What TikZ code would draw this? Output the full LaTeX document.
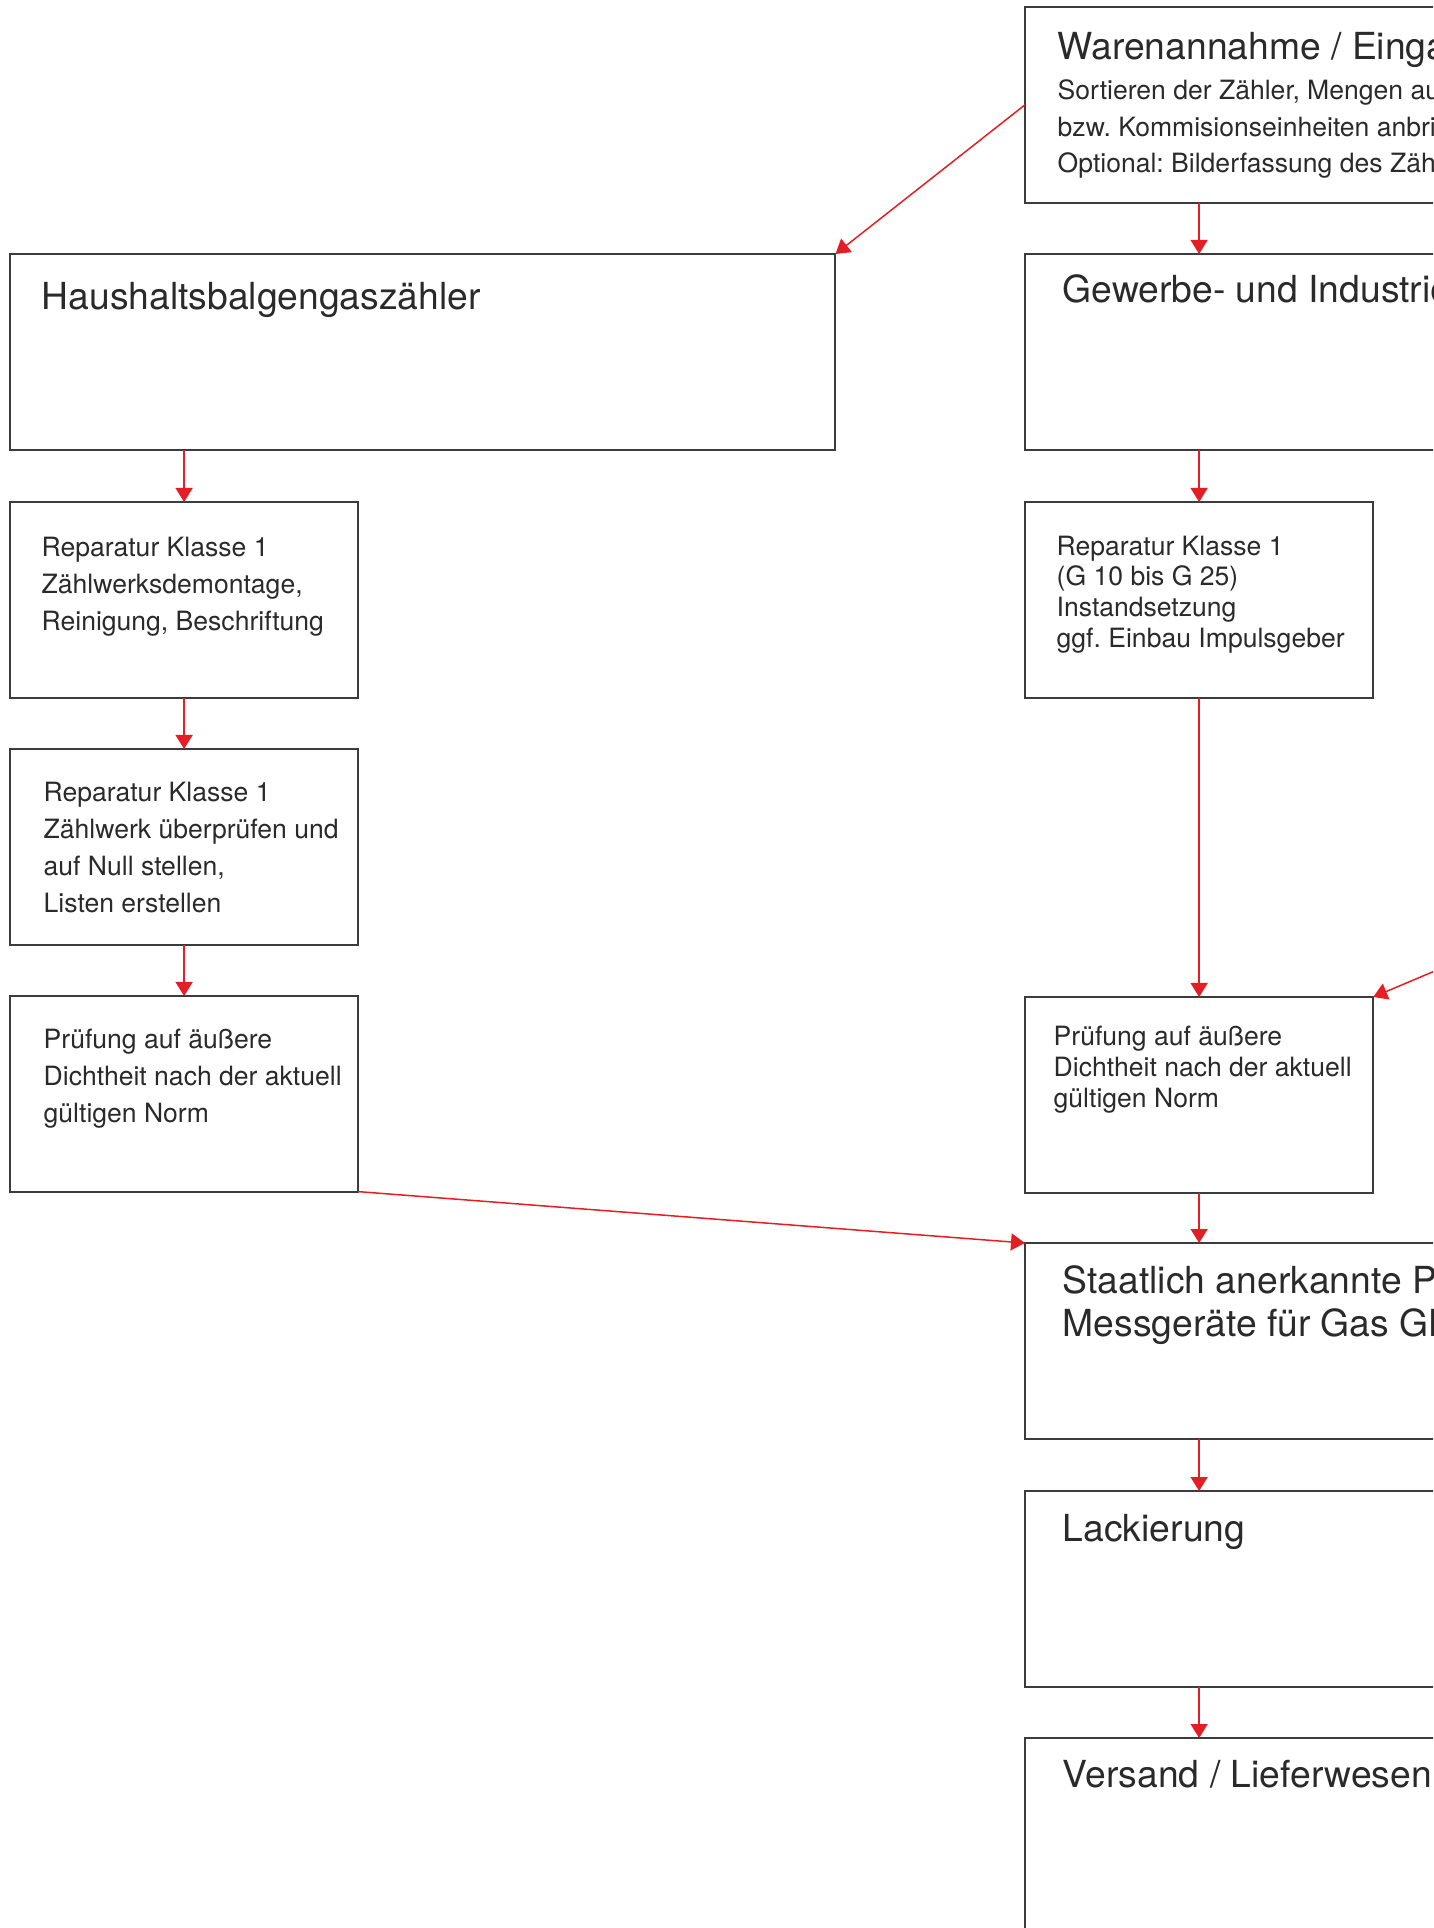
\documentclass[tikz,border=0pt]{standalone}
\usepackage{fontspec}
\setmainfont{TeX Gyre Heros}
\usepackage{xcolor}
\usetikzlibrary{arrows.meta, positioning, calc}
\frenchspacing

\definecolor{flowred}{RGB}{227,30,36}
\definecolor{frame}{RGB}{60,60,60}
\definecolor{ink}{RGB}{42,42,42}

\begin{document}
\begin{tikzpicture}[
    x=0.01cm, y=-0.01cm,
    box/.style={rectangle, draw=frame, line width=0.02cm, anchor=north west, inner sep=0pt, outer sep=0pt, minimum width=3.48cm, minimum height=1.955cm},
    widebox/.style={box, minimum width=8.25cm},
    headtxt/.style={anchor=base west, inner sep=0pt, text=ink, align=left, font=\fontsize{10.6}{12.2}\selectfont},
    bodytxt/.style={anchor=base west, inner sep=0pt, text=ink, align=left, font=\fontsize{7.55}{10.5}\selectfont},
    bodytxtR/.style={bodytxt, font=\fontsize{7.55}{8.7}\selectfont},
    arrow/.style={-{Triangle[length=0.14cm, width=0.17cm]}, line width=0.015cm, draw=flowred}
]
\useasboundingbox (0,0) rectangle (1433,1928);
\clip (0,0) rectangle (1433,1928);

% Top: goods receipt (text nodes sit on the baseline of their last line)
\node[widebox] (wa) at (1025,7) {};
\node[headtxt] (waT) at (1057,60) {Warenannahme / Eingangskontrolle};
\node[bodytxt] (waB) at (1057,173) {Sortieren der Zähler, Mengen aufnehmen\\bzw. Kommisionseinheiten anbringen\\Optional: Bilderfassung des Zählers};

% Left column: household meters
\node[widebox] (hh) at (10,254) {};
\node[headtxt] (hhT) at (41,310) {Haushaltsbalgengaszähler};

\node[box] (r1) at (10,502) {};
\node[bodytxt] (r1T) at (41,630) {Reparatur Klasse 1\\Zählwerksdemontage,\\Reinigung, Beschriftung};

\node[box] (r2) at (10,749) {};
\node[bodytxt] (r2T) at (43,912) {Reparatur Klasse 1\\Zählwerk überprüfen und\\auf Null stellen,\\Listen erstellen};

\node[box] (pl) at (10,996) {};
\node[bodytxt] (plT) at (43,1122) {Prüfung auf äußere\\Dichtheit nach der aktuell\\gültigen Norm};

% Right column: commercial and industrial meters
\node[widebox] (gw) at (1025,254) {};
\node[headtxt] (gwT) at (1062,303) {Gewerbe- und Industriezähler};

\node[box] (rr) at (1025,502) {};
\node[bodytxtR] (rrT) at (1056,647) {Reparatur Klasse 1\\(G 10 bis G 25)\\Instandsetzung\\ggf. Einbau Impulsgeber};

\node[box] (pr) at (1025,997) {};
\node[bodytxtR] (prT) at (1053,1107) {Prüfung auf äußere\\Dichtheit nach der aktuell\\gültigen Norm};

\node[widebox] (st) at (1025,1243) {};
\node[headtxt] (stT) at (1062,1336) {Staatlich anerkannte Prüfstelle für\\Messgeräte für Gas GH};

\node[widebox] (lk) at (1025,1491) {};
\node[headtxt] (lkT) at (1062,1541) {Lackierung};

\node[widebox] (vs) at (1025,1738) {};
\node[headtxt] (vsT) at (1062,1787) {Versand / Lieferwesen};

\coordinate (ext) at (1700,859);

% Arrows
\draw[arrow] (wa.west) -- (hh.north east);
\draw[arrow] (rr.north |- wa.south) -- (rr.north |- gw.north);
\draw[arrow] (r1.north |- hh.south) -- (r1.north);
\draw[arrow] (r1.south) -- (r2.north);
\draw[arrow] (r2.south) -- (pl.north);
\draw[arrow] (pl.south east) -- (st.north west);
\draw[arrow] (rr.north |- gw.south) -- (rr.north);
\draw[arrow] (rr.south) -- (pr.north);
\draw[arrow] (ext) -- (pr.north east);
\draw[arrow] (pr.south) -- (pr.south |- st.north);
\draw[arrow] (pr.south |- st.south) -- (pr.south |- lk.north);
\draw[arrow] (pr.south |- lk.south) -- (pr.south |- vs.north);

\end{tikzpicture}
\end{document}
